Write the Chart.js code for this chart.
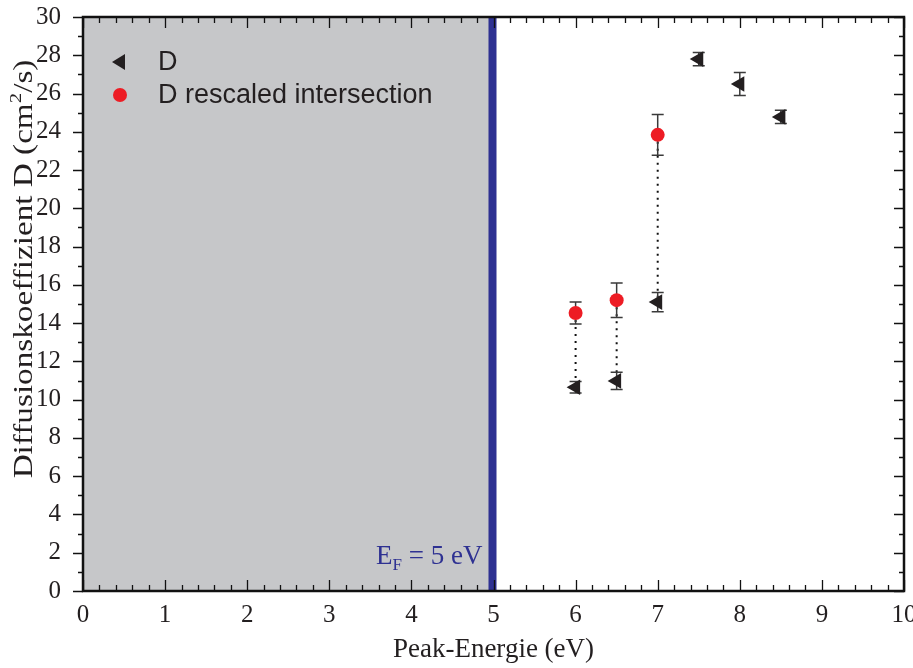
<!DOCTYPE html>
<html>
<head>
<meta charset="utf-8">
<script src="https://cdn.jsdelivr.net/npm/chart.js@4.4.0/dist/chart.umd.min.js"></script>
<style>
  html, body { margin: 0; padding: 0; background: #fff; }
  #wrap { width: 913px; height: 668px; }
</style>
</head>
<body>
<div id="wrap"><canvas id="c" width="913" height="668"></canvas></div>
<script>
// measured D values
const energies = [6, 6.5, 7, 7.5, 8, 8.5];
const dValues = [10.65, 10.98, 15.1, 27.8, 26.5, 24.78];
const dErrors = [0.3, 0.45, 0.5, 0.35, 0.6, 0.35];

// rescaled intersection
const rescaledEnergies = [6, 6.5, 7];
const rescaledValues = [14.53, 15.2, 23.84];
const rescaledErrors = [0.58, 0.9, 1.07];

const fermiEnergy = 5;
const xTicks = [0, 1, 2, 3, 4, 5, 6, 7, 8, 9, 10];
const yTicks = [0, 2, 4, 6, 8, 10, 12, 14, 16, 18, 20, 22, 24, 26, 28, 30];

const serif = '"Liberation Serif", "Times New Roman", serif';
const sans = '"Liberation Sans", Arial, sans-serif';
const ink = '#231f20';

const toPts = (xs, ys) => xs.map((x, i) => ({ x: x, y: ys[i] }));

// draw a run of text pieces (for sub/superscripts), left aligned at x
function drawRuns(ctx, runs, x, y) {
  runs.forEach(r => {
    ctx.font = r.size + 'px ' + serif;
    ctx.fillText(r.t, x, y - (r.rise || 0));
    x += ctx.measureText(r.t).width;
  });
}
function runsWidth(ctx, runs) {
  let w = 0;
  runs.forEach(r => { ctx.font = r.size + 'px ' + serif; w += ctx.measureText(r.t).width; });
  return w;
}

const decor = {
  id: 'decor',
  beforeDraw(chart) {
    const ctx = chart.ctx;
    ctx.save();
    ctx.fillStyle = '#fff';
    ctx.fillRect(0, 0, chart.width, chart.height);
    ctx.restore();
  },
  beforeDatasetsDraw(chart) {
    const ctx = chart.ctx, a = chart.chartArea;
    const xs = chart.scales.x, ys = chart.scales.y;
    ctx.save();
    // shaded region below fermi energy
    const xf = xs.getPixelForValue(fermiEnergy);
    ctx.fillStyle = '#c6c7c9';
    ctx.fillRect(a.left, a.top, xf - a.left, a.bottom - a.top);
    ctx.fillStyle = '#2e3192';
    ctx.fillRect(xf - 5, a.top, 8, a.bottom - a.top);

    // dotted connectors
    ctx.strokeStyle = '#111';
    ctx.lineWidth = 2;
    ctx.setLineDash([2, 5]);
    rescaledEnergies.forEach((e, i) => {
      const j = energies.indexOf(e);
      if (j < 0) return;
      const px = xs.getPixelForValue(e);
      ctx.beginPath();
      ctx.moveTo(px, ys.getPixelForValue(rescaledValues[i]));
      ctx.lineTo(px, ys.getPixelForValue(dValues[j]));
      ctx.stroke();
    });
    ctx.setLineDash([]);

    // error bars
    const bars = (xv, yv, ev) => {
      ctx.strokeStyle = '#3a3a3a';
      ctx.lineWidth = 1.5;
      xv.forEach((e, i) => {
        const px = xs.getPixelForValue(e);
        const hi = ys.getPixelForValue(yv[i] + ev[i]);
        const lo = ys.getPixelForValue(yv[i] - ev[i]);
        ctx.beginPath();
        ctx.moveTo(px, hi); ctx.lineTo(px, lo);
        ctx.moveTo(px - 6, hi); ctx.lineTo(px + 6, hi);
        ctx.moveTo(px - 6, lo); ctx.lineTo(px + 6, lo);
        ctx.stroke();
      });
    };
    bars(energies, dValues, dErrors);
    bars(rescaledEnergies, rescaledValues, rescaledErrors);
    ctx.restore();
  },
  afterDatasetsDraw(chart) {
    const ctx = chart.ctx, a = chart.chartArea;
    const xs = chart.scales.x, ys = chart.scales.y;
    ctx.save();
    ctx.strokeStyle = '#111';
    ctx.lineWidth = 1.3;
    ctx.beginPath();
    // x ticks (major + minor), inward on bottom and top
    for (let v = 0; v <= 10.001; v += 0.2) {
      const px = Math.round(xs.getPixelForValue(v)) + 0.5;
      const major = Math.abs(v - Math.round(v)) < 1e-6;
      const len = major ? 11 : 6;
      ctx.moveTo(px, a.bottom); ctx.lineTo(px, a.bottom - len);
      ctx.moveTo(px, a.top); ctx.lineTo(px, a.top + len);
    }
    // y ticks: outward on the left, inward on the right
    for (let v = 0; v <= 30; v += 1) {
      const py = Math.round(ys.getPixelForValue(v)) + 0.5;
      const len = v % 2 === 0 ? 10 : 5;
      ctx.moveTo(a.left, py); ctx.lineTo(a.left - len, py);
      ctx.moveTo(a.right, py); ctx.lineTo(a.right - len, py);
    }
    ctx.stroke();
    // frame
    ctx.lineWidth = 2.5;
    ctx.strokeStyle = '#111';
    ctx.strokeRect(a.left, a.top, a.right - a.left, a.bottom - a.top);

    // fermi label
    const xf = xs.getPixelForValue(fermiEnergy);
    ctx.fillStyle = '#2e3192';
    ctx.textBaseline = 'alphabetic';
    ctx.textAlign = 'left';
    const ef = [{ t: 'E', size: 27 }, { t: 'F', size: 17, rise: -6 }, { t: ' = 5 eV', size: 27 }];
    drawRuns(ctx, ef, xf - 11 - runsWidth(ctx, ef), 564);

    // axis titles
    ctx.fillStyle = ink;
    ctx.font = '27px ' + serif;
    ctx.textAlign = 'center';
    ctx.fillText('Peak-Energie (eV)', (a.left + a.right) / 2, 657);

    const yt = [{ t: 'Diffusionskoeffizient D (cm', size: 27 }, { t: '2', size: 17, rise: 11 }, { t: '/s)', size: 27 }];
    ctx.textAlign = 'left';
    ctx.save();
    ctx.translate(32, 269);
    ctx.rotate(-Math.PI / 2);
    ctx.scale(1.23, 1);
    drawRuns(ctx, yt, -runsWidth(ctx, yt) / 2, 0);
    ctx.restore();

    // legend
    const items = chart.data.datasets;
    const lx = 119, ly = [62, 95];
    ctx.font = '27px ' + sans;
    ctx.textBaseline = 'middle';
    ctx.textAlign = 'left';
    items.forEach((ds, i) => {
      const y = ly[i];
      ctx.fillStyle = ds.backgroundColor;
      ctx.beginPath();
      if (ds.pointStyle === 'circle') {
        ctx.arc(lx + 1, y, 7, 0, Math.PI * 2);
      } else {
        ctx.moveTo(lx - 7, y);
        ctx.lineTo(lx + 6, y - 8);
        ctx.lineTo(lx + 6, y + 8);
        ctx.closePath();
      }
      ctx.fill();
      ctx.fillStyle = ink;
      ctx.fillText(ds.label, 158, y + 1);
    });
    ctx.restore();
  }
};

new Chart(document.getElementById('c'), {
  type: 'scatter',
  data: {
    datasets: [
      {
        label: 'D',
        data: toPts(energies, dValues),
        pointStyle: 'triangle',
        rotation: 270,
        pointRadius: 9,
        backgroundColor: ink,
        borderColor: ink,
        borderWidth: 0
      },
      {
        label: 'D rescaled intersection',
        data: toPts(rescaledEnergies, rescaledValues),
        pointStyle: 'circle',
        pointRadius: 7,
        backgroundColor: '#ed1c24',
        borderColor: '#ed1c24',
        borderWidth: 0
      }
    ]
  },
  options: {
    responsive: false,
    animation: false,
    layout: { padding: { top: 17, right: 6, left: 0, bottom: 0 } },
    plugins: { legend: { display: false }, tooltip: { enabled: false } },
    scales: {
      x: {
        type: 'linear', min: 0, max: 10,
        afterBuildTicks: s => { s.ticks = xTicks.map(v => ({ value: v })); },
        afterFit: s => { s.height = 77; s.paddingLeft = 0; s.paddingRight = 0; },
        grid: { display: false },
        border: { display: false },
        ticks: { color: ink, font: { family: serif, size: 25 }, padding: 1, maxRotation: 0 }
      },
      y: {
        type: 'linear', min: 0, max: 30,
        afterBuildTicks: s => { s.ticks = yTicks.map(v => ({ value: v })); },
        afterFit: s => { s.width = 83; s.paddingTop = 0; s.paddingBottom = 0; },
        grid: { display: false },
        border: { display: false },
        ticks: { color: ink, font: { family: serif, size: 25 }, padding: 14 }
      }
    }
  },
  plugins: [decor]
});
</script>
</body>
</html>
